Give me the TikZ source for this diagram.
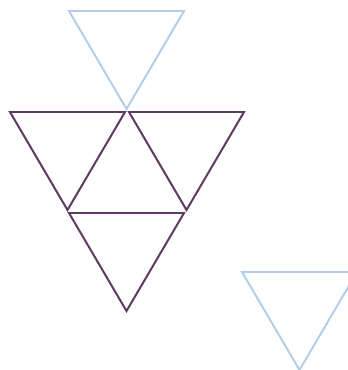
\documentclass[tikz,border=0pt]{standalone}
\usepackage{tikz}
\definecolor{mypale}{RGB}{178,206,232}
\definecolor{myplum}{RGB}{94,58,96}
\tikzset{
  paletri/.style={draw=mypale, line width=1.7pt, line join=miter},
  plumtri/.style={draw=myplum, line width=1.7pt, line join=miter}
}

\begin{document}
\begin{tikzpicture}[x=0.03cm, y=-0.03cm]
  \useasboundingbox (0,0) rectangle (348,370);
  % pale triangles
  \foreach \x/\y in {69/11, 242/272}
    \draw[paletri] (\x,\y) -- ++(115,0) -- ++(-57.5,98) -- cycle;
  % plum triangles
  \foreach \x/\y in {10/112, 129/112, 69/213}
    \draw[plumtri] (\x,\y) -- ++(115,0) -- ++(-57.5,98) -- cycle;
\end{tikzpicture}
\end{document}
